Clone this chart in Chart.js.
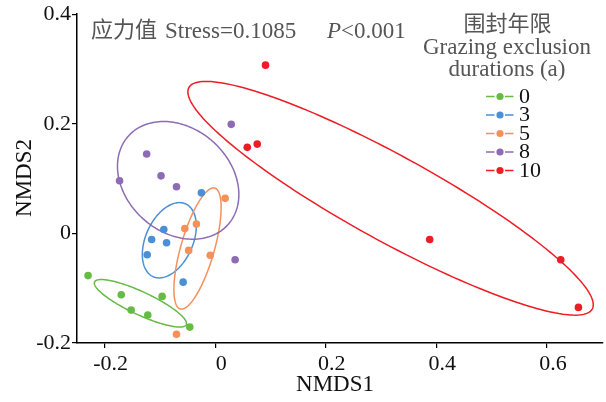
<!DOCTYPE html>
<html>
<head>
<meta charset="utf-8">
<script src="https://cdn.jsdelivr.net/npm/chart.js@4.4.1/dist/chart.umd.min.js"></script>
<style>
html, body { margin: 0; padding: 0; background: #fff; }
#wrap { width: 606px; height: 402px; position: relative; }
</style>
</head>
<body>
<div id="wrap"><canvas id="nmdsChart"></canvas></div>
<script>
// groups: grazing exclusion durations (a)
const durations = ['0', '3', '5', '8', '10'];
const groupColors = ['#66bb44', '#4b8fd6', '#f6905a', '#8d6cb5', '#ee1c25'];

// NMDS scores
const g0x = [-0.230, -0.170, -0.152, -0.122, -0.096, -0.046];
const g0y = [-0.077, -0.112, -0.140, -0.149, -0.115, -0.171];
const g3x = [-0.025, -0.093, -0.115, -0.088, -0.123, -0.058];
const g3y = [0.074, 0.007, -0.011, -0.017, -0.039, -0.089];
const g5x = [0.018, -0.034, -0.055, -0.048, -0.009, -0.070];
const g5y = [0.064, 0.017, 0.009, -0.031, -0.040, -0.184];
const g8x = [0.029, -0.124, -0.173, -0.098, -0.070, 0.036];
const g8y = [0.199, 0.145, 0.096, 0.105, 0.085, -0.048];
const g10x = [0.091, 0.058, 0.076, 0.388, 0.625, 0.657];
const g10y = [0.307, 0.157, 0.163, -0.011, -0.048, -0.135];

// ellipses per group (data units): centre, semi-axes, rotation (deg)
const ellCx = [-0.1353, -0.0830, -0.0320, -0.0670, 0.3172];
const ellCy = [-0.1275, -0.0125, -0.0276, 0.0968, 0.0641];
const ellA = [0.0916, 0.0726, 0.1146, 0.1210, 0.4170];
const ellB = [0.0209, 0.0428, 0.0303, 0.0946, 0.0776];
const ellAngle = [-25.2, 66.4, 74.2, -42.4, -29.0];

const xTicks = [-0.2, 0, 0.2, 0.4, 0.6];
const yTicks = [-0.2, 0, 0.2, 0.4];

const allX = [g0x, g3x, g5x, g8x, g10x];
const allY = [g0y, g3y, g5y, g8y, g10y];

const SERIF = '"Liberation Serif", "Times New Roman", serif';
const CJK = '"Noto Sans CJK SC", sans-serif';

const fmt = v => (v === 0 ? '0' : String(v));

const nmdsDecor = {
    id: 'nmdsDecor',
    beforeDatasetsDraw(chart) {
        const { ctx, scales: { x, y } } = chart;
        ctx.save();
        ctx.lineWidth = 1.5;
        durations.forEach((d, i) => {
            const phi = ellAngle[i] * Math.PI / 180;
            ctx.beginPath();
            for (let k = 0; k <= 180; k++) {
                const t = k / 180 * Math.PI * 2;
                const dx = ellA[i] * Math.cos(t) * Math.cos(phi) - ellB[i] * Math.sin(t) * Math.sin(phi);
                const dy = ellA[i] * Math.cos(t) * Math.sin(phi) + ellB[i] * Math.sin(t) * Math.cos(phi);
                const px = x.getPixelForValue(ellCx[i] + dx);
                const py = y.getPixelForValue(ellCy[i] + dy);
                if (k === 0) ctx.moveTo(px, py); else ctx.lineTo(px, py);
            }
            ctx.closePath();
            ctx.strokeStyle = groupColors[i];
            ctx.stroke();
        });
        ctx.restore();
    },
    afterDraw(chart) {
        const ctx = chart.ctx;
        ctx.save();

        // stress / p annotation
        ctx.fillStyle = '#555';
        ctx.textAlign = 'left';
        ctx.textBaseline = 'middle';
        ctx.font = '22px ' + CJK;
        ctx.fillText('应力值', 91, 29);
        ctx.textBaseline = 'alphabetic';
        ctx.font = '23px ' + SERIF;
        ctx.fillText('Stress=0.1085', 165, 38);
        ctx.font = 'italic 23px ' + SERIF;
        ctx.fillText('P', 327, 38);
        const pw = ctx.measureText('P').width;
        ctx.font = '23px ' + SERIF;
        ctx.fillText('<0.001', 327 + pw, 38);

        // legend title
        ctx.textAlign = 'center';
        ctx.textBaseline = 'middle';
        ctx.font = '22px ' + CJK;
        ctx.fillText('围封年限', 507.5, 22.5);
        ctx.textBaseline = 'alphabetic';
        ctx.font = '23px ' + SERIF;
        ctx.fillText('Grazing exclusion', 507, 53.5);
        ctx.fillText('durations (a)', 507, 76);

        // legend entries
        ctx.textAlign = 'left';
        ctx.textBaseline = 'middle';
        ctx.font = '22px ' + SERIF;
        durations.forEach((d, i) => {
            const yy = 96.5 + i * 18.5;
            ctx.strokeStyle = groupColors[i];
            ctx.lineWidth = 1.3;
            ctx.beginPath();
            ctx.moveTo(486, yy); ctx.lineTo(494.5, yy);
            ctx.moveTo(505, yy); ctx.lineTo(513.5, yy);
            ctx.stroke();
            ctx.fillStyle = groupColors[i];
            ctx.beginPath();
            ctx.arc(500, yy, 3.6, 0, Math.PI * 2);
            ctx.fill();
            ctx.fillStyle = '#111';
            ctx.fillText(d, 519, yy + 0.5);
        });

        // axis titles
        ctx.fillStyle = '#111';
        ctx.textAlign = 'center';
        ctx.textBaseline = 'alphabetic';
        ctx.font = '23px ' + SERIF;
        ctx.fillText('NMDS1', 335, 391);
        ctx.translate(25, 178);
        ctx.rotate(-Math.PI / 2);
        ctx.textBaseline = 'middle';
        ctx.fillText('NMDS2', 0, 0);

        ctx.restore();
    }
};

const datasets = durations.map((d, i) => ({
    label: d,
    data: allX[i].map((v, j) => ({ x: v, y: allY[i][j] })),
    backgroundColor: groupColors[i],
    borderWidth: 0,
    pointRadius: 3.8,
    pointHoverRadius: 3.8,
    clip: false
}));

const axisCommon = {
    type: 'linear',
    grid: { display: true, drawOnChartArea: false, drawTicks: true, tickLength: 5, color: '#000', lineWidth: 1.2 },
    border: { display: true, color: '#000', width: 1.5 },
};

new Chart(document.getElementById('nmdsChart'), {
    type: 'scatter',
    data: { datasets },
    options: {
        responsive: true,
        maintainAspectRatio: false,
        animation: false,
        events: [],
        layout: { padding: { top: 13, right: 0, bottom: 0, left: 0 } },
        plugins: { legend: { display: false }, tooltip: { enabled: false } },
        scales: {
            x: {
                ...axisCommon,
                min: -0.25, max: 0.7,
                afterBuildTicks: s => { s.ticks = xTicks.map(v => ({ value: v })); },
                afterFit: s => { s.height = 59; },
                ticks: { color: '#111', font: { family: SERIF, size: 22 }, padding: 3, labelOffset: 6, maxRotation: 0, autoSkip: false, callback: v => fmt(v) }
            },
            y: {
                ...axisCommon,
                min: -0.2, max: 0.4,
                afterBuildTicks: s => { s.ticks = yTicks.map(v => ({ value: v })); },
                afterFit: s => { s.width = 77; },
                ticks: { color: '#111', font: { family: SERIF, size: 22 }, padding: 1, autoSkip: false, callback: v => fmt(v) }
            }
        }
    },
    plugins: [nmdsDecor]
});
</script>
</body>
</html>
